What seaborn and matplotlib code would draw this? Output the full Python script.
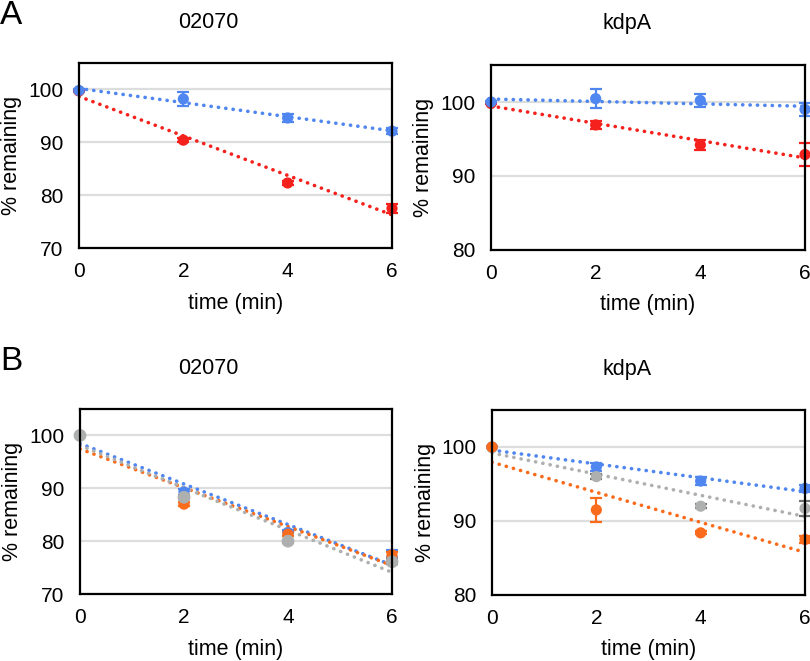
import numpy as np
import pandas as pd
import matplotlib
matplotlib.use("Agg")
import matplotlib.pyplot as plt
import seaborn as sns

# time points (min)
times = [0, 2, 4, 6]

# Panel A, 02070
a_02070_blue = [99.8, 98.2, 94.6, 92.1]
a_02070_blue_err = [0.2, 1.3, 0.7, 0.6]
a_02070_red = [99.7, 90.4, 82.3, 77.5]
a_02070_red_err = [0.2, 0.4, 0.4, 0.8]

# Panel A, kdpA
a_kdpa_blue = [100.0, 100.45, 100.2, 99.0]
a_kdpa_blue_err = [0.1, 1.3, 0.9, 0.9]
a_kdpa_red = [99.8, 96.9, 94.2, 92.9]
a_kdpa_red_err = [0.1, 0.6, 0.7, 1.6]

# Panel B, 02070
b_02070_blue = [100.0, 89.3, 81.6, 77.0]
b_02070_blue_err = [0.1, 0.5, 0.6, 1.4]
b_02070_orange = [100.0, 87.0, 81.3, 77.4]
b_02070_orange_err = [0.1, 0.4, 0.4, 0.6]
b_02070_grey = [100.0, 88.3, 80.0, 76.1]
b_02070_grey_err = [0.1, 0.4, 0.3, 0.5]

# Panel B, kdpA
b_kdpa_blue = [100.0, 97.3, 95.4, 94.4]
b_kdpa_blue_err = [0.1, 0.6, 0.5, 0.5]
b_kdpa_grey = [99.9, 96.0, 92.0, 91.7]
b_kdpa_grey_err = [0.1, 0.3, 0.3, 1.0]
b_kdpa_orange = [100.0, 91.5, 88.4, 87.5]
b_kdpa_orange_err = [0.1, 1.6, 0.2, 0.5]

BLUE = "#4f86ef"
RED = "#f5211c"
ORANGE = "#fb6b1c"
GREY = "#aeb0b0"
GREY_ERR = "#6f7272"

sns.set_theme(style="white")
plt.rcParams["font.family"] = ["Liberation Sans", "DejaVu Sans"]
plt.rcParams["text.color"] = "black"
plt.rcParams["axes.labelcolor"] = "black"
plt.rcParams["xtick.color"] = "black"
plt.rcParams["ytick.color"] = "black"

fig = plt.figure(figsize=(8.1, 6.61), dpi=100)
W, H = 810, 661


def add_ax(x0, y0, x1, y1):
    return fig.add_axes([x0 / W, 1 - y1 / H, (x1 - x0) / W, (y1 - y0) / H])


def draw_series(ax, y, err, color, ecolor=None, s=65):
    df = pd.DataFrame({"time": times, "pct": y})
    sns.regplot(data=df, x="time", y="pct", ax=ax, scatter=False, ci=None,
                truncate=True,
                line_kws=dict(color=color, lw=2.6, linestyle=(0, (0.05, 2.0)),
                              dash_capstyle="round", zorder=2))
    ax.errorbar(times, y, yerr=err, fmt="none", ecolor=ecolor or color,
                elinewidth=1.6, capsize=4, capthick=1.6, zorder=3, clip_on=False)
    sns.scatterplot(data=df, x="time", y="pct", ax=ax, color=color, s=s,
                    edgecolor="none", zorder=4, clip_on=False, legend=False)


def style_ax(ax, title, tx, ylim, yticks):
    ax.set_xlim(0, 6)
    ax.set_ylim(*ylim)
    ax.set_xticks([0, 2, 4, 6])
    ax.set_yticks(yticks)
    ax.yaxis.grid(True, color="#dcdedd", lw=1.6)
    ax.xaxis.grid(False)
    ax.set_axisbelow(True)
    for sp in ax.spines.values():
        sp.set_color("black")
        sp.set_linewidth(1.6)
        sp.set_zorder(5)
    ax.tick_params(axis="both", length=0, labelsize=15)
    ax.tick_params(axis="y", pad=11)
    ax.tick_params(axis="x", pad=10)
    ax.set_xlabel("time (min)", fontsize=15.5, va="center")
    ax.set_ylabel("% remaining", fontsize=15.5, va="center")
    h = ax.get_position().height * H
    w = ax.get_position().width * W
    ax.xaxis.set_label_coords(0.5, -55 / h)
    ax.yaxis.set_label_coords(-67 / w, 0.5)
    ax.text(tx, 1 + 41 / h, title, transform=ax.transAxes, ha="center",
            va="center", fontsize=15.5)


ax1 = add_ax(79, 63, 392, 248)
draw_series(ax1, a_02070_red, a_02070_red_err, RED)
draw_series(ax1, a_02070_blue, a_02070_blue_err, BLUE)
style_ax(ax1, "02070", 0.412, (70, 105), [70, 80, 90, 100])

ax2 = add_ax(491, 65, 805, 250)
draw_series(ax2, a_kdpa_red, a_kdpa_red_err, RED)
draw_series(ax2, a_kdpa_blue, a_kdpa_blue_err, BLUE)
style_ax(ax2, "kdpA", 0.433, (80, 105), [80, 90, 100])

ax3 = add_ax(80, 409, 392, 594)
draw_series(ax3, b_02070_blue, b_02070_blue_err, BLUE)
draw_series(ax3, b_02070_orange, b_02070_orange_err, ORANGE)
draw_series(ax3, b_02070_grey, b_02070_grey_err, GREY, GREY_ERR, s=85)
style_ax(ax3, "02070", 0.412, (70, 105), [70, 80, 90, 100])

ax4 = add_ax(492, 410, 805, 595)
draw_series(ax4, b_kdpa_blue, b_kdpa_blue_err, BLUE)
draw_series(ax4, b_kdpa_grey, b_kdpa_grey_err, GREY, GREY_ERR)
draw_series(ax4, b_kdpa_orange, b_kdpa_orange_err, ORANGE)
style_ax(ax4, "kdpA", 0.433, (80, 105), [80, 90, 100])

# panel letters
fig.text(0 / W, 1 - 15 / H, "A", fontsize=24, ha="left", va="center")
fig.text(0 / W, 1 - 362 / H, "B", fontsize=24, ha="left", va="center")

plt.savefig("out.png", dpi=100)
